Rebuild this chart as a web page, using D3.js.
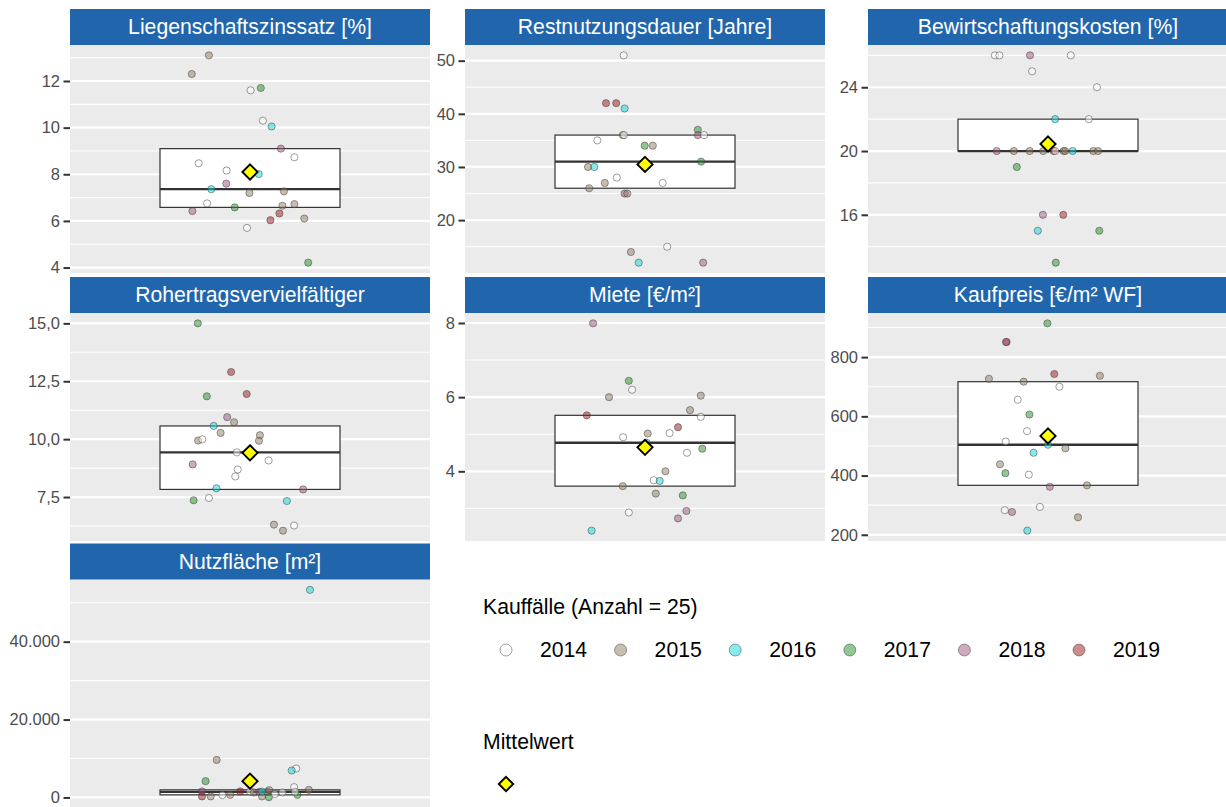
<!DOCTYPE html>
<html>
<head>
<meta charset="utf-8">
<script src="https://cdn.jsdelivr.net/npm/d3@7"></script>
<style>
  body { margin: 0; background: #ffffff; }
  svg { display: block; font-family: "Liberation Sans", Arial, Helvetica, sans-serif; }
</style>
</head>
<body>
<svg id="chart" width="1226" height="807"></svg>
<script>
// ---------------------------------------------------------------
// Kauffälle 2014–2019: Kennwerte je Merkmal (25 Kauffälle)
// ---------------------------------------------------------------
const yearLevels = [2014, 2015, 2016, 2017, 2018, 2019];

const panelTitles = [
  "Liegenschaftszinssatz [%]",
  "Restnutzungsdauer [Jahre]",
  "Bewirtschaftungskosten [%]",
  "Rohertragsvervielfältiger",
  "Miete [€/m²]",
  "Kaufpreis [€/m² WF]",
  "Nutzfläche [m²]"
];

// Liegenschaftszinssatz [%]
const zinsValues = [13.1, 12.3, 11.6, 11.7, 10.3, 10.05, 9.1, 8.73, 8.47, 8.16, 8.01, 7.6, 7.36, 7.2, 7.27, 6.75, 6.58, 6.42, 6.65, 6.72, 6.32, 6.03, 6.1, 5.7, 4.21];
const zinsYears  = [2015, 2015, 2014, 2017, 2014, 2016, 2018, 2014, 2014, 2014, 2016, 2018, 2016, 2015, 2015, 2014, 2017, 2018, 2015, 2015, 2019, 2019, 2015, 2014, 2017];
const zinsJitter = [-0.137, -0.194, 0.002, 0.036, 0.043, 0.072, 0.103, 0.148, -0.171, -0.078, 0.029, -0.079, -0.129, -0.002, 0.113, -0.143, -0.051, -0.192, 0.108, 0.148, 0.098, 0.068, 0.181, -0.010, 0.194];
const zinsTicks  = [4, 6, 8, 10, 12];

// Restnutzungsdauer [Jahre]
const rndValues = [51, 42, 42, 41, 37, 36, 36, 36, 36, 35, 34, 34, 30, 30, 31, 28, 27, 27, 26, 25, 25, 14, 15, 12, 12];
const rndYears  = [2014, 2019, 2019, 2016, 2017, 2018, 2014, 2015, 2014, 2014, 2017, 2015, 2015, 2016, 2017, 2014, 2015, 2014, 2015, 2018, 2015, 2015, 2014, 2016, 2018];
const rndJitter = [-0.071, -0.130, -0.096, -0.068, 0.176, 0.176, 0.197, -0.074, -0.070, -0.159, -0.001, 0.026, -0.190, -0.169, 0.187, -0.094, -0.134, 0.059, -0.186, -0.068, -0.059, -0.047, 0.074, -0.021, 0.194];
const rndTicks  = [20, 30, 40, 50];

// Bewirtschaftungskosten [%]
const bwkValues = [26, 26, 26, 26, 25, 24, 22, 22, 20, 20, 20, 20, 20, 20, 20, 20, 20, 20, 20, 19, 16, 16, 15, 15, 13];
const bwkYears  = [2014, 2014, 2018, 2014, 2014, 2014, 2016, 2014, 2018, 2015, 2015, 2015, 2019, 2014, 2015, 2015, 2016, 2015, 2015, 2017, 2018, 2019, 2016, 2017, 2017];
const bwkJitter = [-0.177, -0.162, -0.060, 0.076, -0.053, 0.163, 0.024, 0.136, -0.171, -0.114, -0.061, -0.016, 0.019, 0.024, 0.052, 0.057, 0.082, 0.151, 0.167, -0.104, -0.017, 0.051, -0.034, 0.171, 0.026];
const bwkTicks  = [16, 20, 24];

// Rohertragsvervielfältiger
const rovValues = [15.0, 12.9, 11.85, 11.95, 10.95, 10.73, 10.57, 10.27, 10.17, 9.94, 9.99, 9.93, 9.43, 9.08, 8.91, 8.69, 8.39, 7.88, 7.83, 7.36, 7.46, 7.33, 6.31, 6.05, 6.27];
const rovYears  = [2017, 2019, 2017, 2019, 2018, 2015, 2016, 2015, 2015, 2015, 2014, 2015, 2014, 2014, 2018, 2014, 2014, 2016, 2018, 2017, 2014, 2016, 2015, 2015, 2014];
const rovJitter = [-0.174, -0.063, -0.144, -0.011, -0.076, -0.053, -0.121, -0.098, 0.033, -0.173, -0.159, 0.030, -0.044, 0.062, -0.191, -0.041, -0.049, -0.112, 0.177, -0.188, -0.137, 0.123, 0.080, 0.110, 0.147];
const rovTicks  = [7.5, 10, 12.5, 15];

// Miete [€/m²]
const mieteValues = [7.99, 6.44, 6.2, 6.0, 6.04, 5.65, 5.51, 5.47, 5.19, 5.02, 5.03, 4.92, 4.61, 4.5, 4.0, 3.76, 3.74, 3.6, 3.4, 3.35, 2.89, 2.93, 2.73, 2.4, 4.77];
const mieteYears  = [2018, 2017, 2014, 2015, 2015, 2015, 2019, 2014, 2019, 2015, 2014, 2014, 2017, 2014, 2015, 2014, 2016, 2015, 2015, 2017, 2014, 2018, 2018, 2016, 2016];
const mieteJitter = [-0.173, -0.054, -0.043, -0.120, 0.186, 0.150, -0.194, 0.186, 0.110, 0.009, 0.082, -0.073, 0.191, 0.140, 0.068, 0.029, 0.049, -0.074, 0.036, 0.126, -0.054, 0.138, 0.110, -0.178, 0.005];
const mieteTicks  = [4, 6, 8];

// Kaufpreis [€/m² WF]
const preisValues = [914, 851, 851, 743, 737, 727, 717, 700, 656, 606, 550, 515, 492, 477, 438, 408, 403, 362, 367, 283, 277, 294, 259, 214, 504];
const preisYears  = [2017, 2019, 2018, 2019, 2015, 2015, 2015, 2014, 2014, 2017, 2014, 2014, 2015, 2016, 2015, 2017, 2014, 2018, 2015, 2014, 2018, 2014, 2015, 2016, 2016];
const preisJitter = [-0.002, -0.138, -0.140, 0.021, 0.173, -0.197, -0.081, 0.038, -0.101, -0.062, -0.070, -0.141, 0.058, -0.048, -0.160, -0.142, -0.064, 0.006, 0.130, -0.144, -0.120, -0.027, 0.100, -0.069, 0.000];
const preisTicks  = [200, 400, 600, 800];

// Nutzfläche [m²]
const flaecheValues = [53300, 9640, 7420, 6910, 4180, 1540, 260, 260, 590, 670, 1540, 1540, 1280, 1440, 260, 1440, 1870, 80, 1280, 2640, 670, 1950, 1440, 850, 1500];
const flaecheYears  = [2016, 2015, 2014, 2016, 2017, 2018, 2019, 2015, 2014, 2015, 2019, 2014, 2015, 2018, 2015, 2018, 2015, 2017, 2014, 2014, 2017, 2015, 2014, 2014, 2016];
const flaecheJitter = [0.200, -0.111, 0.154, 0.139, -0.148, -0.160, -0.160, -0.131, -0.092, -0.066, -0.033, 0.000, 0.013, 0.031, 0.040, 0.058, 0.064, 0.063, 0.108, 0.147, 0.158, 0.196, 0.150, 0.083, 0.040];
const flaecheTicks  = [0, 20000, 40000];

// ---------------------------------------------------------------
// Formatting (German number style)
// ---------------------------------------------------------------
const de = d3.formatLocale({ decimal: ",", thousands: ".", grouping: [3], currency: ["", " €"] });
const fmtInt = de.format(",.0f");
const fmtOne = de.format(".1f");

const panels = [
  { title: panelTitles[0], values: zinsValues,    years: zinsYears,    jitter: zinsJitter,    ticks: zinsTicks,    fmt: fmtInt },
  { title: panelTitles[1], values: rndValues,     years: rndYears,     jitter: rndJitter,     ticks: rndTicks,     fmt: fmtInt },
  { title: panelTitles[2], values: bwkValues,     years: bwkYears,     jitter: bwkJitter,     ticks: bwkTicks,     fmt: fmtInt },
  { title: panelTitles[3], values: rovValues,     years: rovYears,     jitter: rovJitter,     ticks: rovTicks,     fmt: fmtOne },
  { title: panelTitles[4], values: mieteValues,   years: mieteYears,   jitter: mieteJitter,   ticks: mieteTicks,   fmt: fmtInt },
  { title: panelTitles[5], values: preisValues,   years: preisYears,   jitter: preisJitter,   ticks: preisTicks,   fmt: fmtInt },
  { title: panelTitles[6], values: flaecheValues, years: flaecheYears, jitter: flaecheJitter, ticks: flaecheTicks, fmt: fmtInt }
];

// ---------------------------------------------------------------
// Styling and layout
// ---------------------------------------------------------------
const yearFill = d3.scaleOrdinal()
  .domain(yearLevels)
  .range(["#ffffff", "#917d5f", "#0fd7dd", "#239123", "#9b557d", "#9b1919"]);
const pointAlpha = 0.5;

const colX = [70, 465, 868];
const rowTop = [9, 277, 543.5];
const panelW = 360;
const stripH = 36;
const panelH = 228;

const svg = d3.select("#chart");

function diamondPath(cx, cy, h) {
  return `M${cx},${cy - h}L${cx + h},${cy}L${cx},${cy + h}L${cx - h},${cy}Z`;
}

panels.forEach((p, i) => {
  const col = i % 3, row = Math.floor(i / 3);
  const x0 = colX[col];
  const top = rowTop[row] + stripH;

  // value range with 5 % padding
  const [lo, hi] = d3.extent(p.values);
  const pad = (hi - lo) * 0.05;
  const y = d3.scaleLinear().domain([lo - pad, hi + pad]).range([top + panelH, top]);
  // one discrete position, widened by 0.6 on each side
  const x = d3.scaleLinear().domain([0.4, 1.6]).range([x0, x0 + panelW]);

  const g = svg.append("g").attr("class", "panel");

  // panel background
  g.append("rect")
    .attr("x", x0).attr("y", top).attr("width", panelW).attr("height", panelH)
    .attr("fill", "#ebebeb");

  // minor grid: halfway between major breaks
  const step = p.ticks[1] - p.ticks[0];
  const minors = [p.ticks[0] - step / 2, ...p.ticks.map(t => t + step / 2)]
    .filter(v => v >= y.domain()[0] && v <= y.domain()[1]);
  g.selectAll("line.minor").data(minors).join("line")
    .attr("class", "minor")
    .attr("x1", x0).attr("x2", x0 + panelW)
    .attr("y1", d => y(d)).attr("y2", d => y(d))
    .attr("stroke", "#ffffff").attr("stroke-width", 1.1);

  const majors = p.ticks.filter(v => v >= y.domain()[0] && v <= y.domain()[1]);
  g.selectAll("line.major").data(majors).join("line")
    .attr("class", "major")
    .attr("x1", x0).attr("x2", x0 + panelW)
    .attr("y1", d => y(d)).attr("y2", d => y(d))
    .attr("stroke", "#ffffff").attr("stroke-width", 2.2);

  // box: quartiles and median (no whiskers)
  const sorted = p.values.slice().sort(d3.ascending);
  const q1 = d3.quantile(sorted, 0.25);
  const med = d3.quantile(sorted, 0.5);
  const q3 = d3.quantile(sorted, 0.75);
  const mean = d3.mean(p.values);

  g.append("rect")
    .attr("x", x(0.7)).attr("y", y(q3))
    .attr("width", x(1.3) - x(0.7)).attr("height", y(q1) - y(q3))
    .attr("fill", "#ffffff").attr("stroke", "#333333").attr("stroke-width", 1.2);
  g.append("line")
    .attr("x1", x(0.7)).attr("x2", x(1.3))
    .attr("y1", y(med)).attr("y2", y(med))
    .attr("stroke", "#333333").attr("stroke-width", 2.3);

  // individual sales, jittered horizontally
  const pts = p.values.map((v, k) => ({ v, year: p.years[k], j: p.jitter[k] }));
  g.selectAll("circle.pt").data(pts).join("circle")
    .attr("class", "pt")
    .attr("cx", d => x(1 + d.j))
    .attr("cy", d => y(d.v))
    .attr("r", 3.6)
    .attr("fill", d => yearFill(d.year))
    .attr("fill-opacity", pointAlpha)
    .attr("stroke", "#3c3c3c")
    .attr("stroke-opacity", 0.55)
    .attr("stroke-width", 0.9);

  // mean marker
  g.append("path")
    .attr("d", diamondPath(x(1), y(mean), 7.6))
    .attr("fill", "#ffff00").attr("stroke", "#000000").attr("stroke-width", 1.9)
    .attr("stroke-linejoin", "miter");

  // y axis
  const axis = d3.axisLeft(y).tickValues(majors).tickSize(6.5).tickPadding(3.5).tickFormat(p.fmt);
  const ag = svg.append("g").attr("transform", `translate(${x0},0)`).call(axis);
  ag.select(".domain").remove();
  ag.selectAll(".tick line").attr("stroke", "#333333").attr("stroke-width", 2);
  ag.selectAll(".tick text")
    .attr("fill", "#4d4d4d")
    .attr("font-size", 16.5)
    .attr("font-family", "Liberation Sans, Arial, sans-serif");

  // strip
  g.append("rect")
    .attr("x", x0).attr("y", rowTop[row]).attr("width", panelW).attr("height", stripH)
    .attr("fill", "#2166ac");
  g.append("text")
    .attr("x", x0 + panelW / 2).attr("y", rowTop[row] + stripH / 2)
    .attr("dy", "0.35em")
    .attr("text-anchor", "middle")
    .attr("fill", "#ffffff")
    .attr("font-size", 21.2)
    .text(p.title);
});

// ---------------------------------------------------------------
// Legends
// ---------------------------------------------------------------
const leg = svg.append("g").attr("class", "legend");
leg.append("text")
  .attr("x", 483).attr("y", 607).attr("dy", "0.35em")
  .attr("font-size", 21.2).attr("fill", "#000000")
  .text("Kauffälle (Anzahl = " + zinsValues.length + ")");

const keyX = d3.scalePoint().domain(yearLevels).range([506, 1079]);
const keys = leg.selectAll("g.key").data(yearLevels).join("g").attr("class", "key");
keys.append("circle")
  .attr("cx", d => keyX(d)).attr("cy", 650).attr("r", 6)
  .attr("fill", d => yearFill(d)).attr("fill-opacity", pointAlpha)
  .attr("stroke", "#3c3c3c").attr("stroke-opacity", 0.55).attr("stroke-width", 0.9);
keys.append("text")
  .attr("x", d => keyX(d) + 34).attr("y", 650).attr("dy", "0.35em")
  .attr("font-size", 21.2).attr("fill", "#000000")
  .text(d => d);

leg.append("text")
  .attr("x", 483).attr("y", 742).attr("dy", "0.35em")
  .attr("font-size", 21.2).attr("fill", "#000000")
  .text("Mittelwert");
leg.append("path")
  .attr("d", diamondPath(506, 784, 7.2))
  .attr("fill", "#ffff00").attr("stroke", "#000000").attr("stroke-width", 1.9);
</script>
</body>
</html>
